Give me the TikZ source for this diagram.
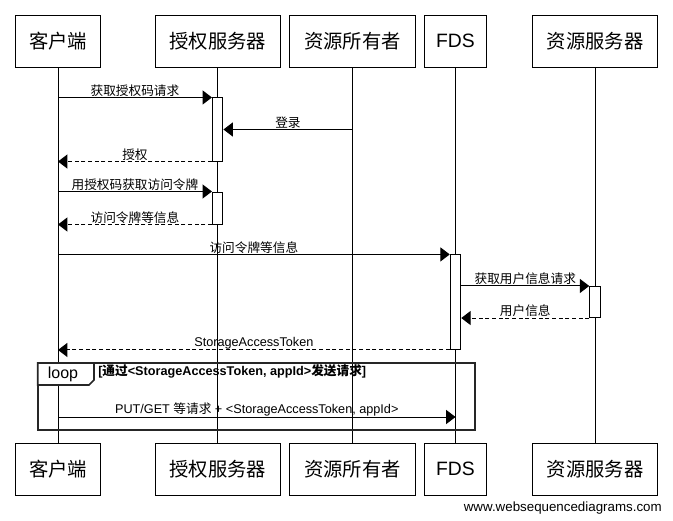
\documentclass[tikz,border=0pt]{standalone}
\usepackage{fontspec}
\setmainfont{Liberation Sans}
\newfontfamily\cjk{Noto Sans CJK SC}
\usetikzlibrary{arrows.meta}

\begin{document}
\begin{tikzpicture}[x=0.75pt, y=-0.75pt,
    actor/.style={draw, line width=0.75pt, inner sep=0pt, minimum height=39.2pt,
                  font=\fontsize{14.5}{17}\selectfont},
    act/.style={draw, fill=white, line width=0.75pt, inner sep=0pt, minimum width=7.9pt},
    msg/.style={line width=0.75pt, -{Triangle[length=7pt, width=10.5pt]}},
    reply/.style={msg, dash pattern=on 3pt off 2pt},
    lbl/.style={midway, above=0pt, inner sep=0.5pt, font=\fontsize{9.5}{11}\selectfont},
    frame/.style={line width=1.2pt, draw=black!85}]
    \useasboundingbox (0,0) rectangle (673,520);

    % participants, top row
    \node[actor, minimum width=64pt]   (client) at (58,41.2)    {\cjk 客户端};
    \node[actor, minimum width=93.5pt] (auth)   at (217.7,41.2) {\cjk 授权服务器};
    \node[actor, minimum width=93.8pt] (owner)  at (352.5,41.2) {\cjk 资源所有者};
    \node[actor, minimum width=46.8pt] (fds)    at (455.5,41.2) {FDS};
    \node[actor, minimum width=94pt]   (res)    at (595,41.2)   {\cjk 资源服务器};

    % participants, bottom row
    \node[actor, minimum width=64pt]   (clientB) at (58,469.2)    {\cjk 客户端};
    \node[actor, minimum width=93.5pt] (authB)   at (217.7,469.2) {\cjk 授权服务器};
    \node[actor, minimum width=93.8pt] (ownerB)  at (352.5,469.2) {\cjk 资源所有者};
    \node[actor, minimum width=46.8pt] (fdsB)    at (455.5,469.2) {FDS};
    \node[actor, minimum width=94pt]   (resB)    at (595,469.2)   {\cjk 资源服务器};

    % lifelines
    \draw[line width=0.75pt] (client) -- (clientB);
    \draw[line width=0.75pt] (auth) -- (authB);
    \draw[line width=0.75pt] (owner) -- (ownerB);
    \draw[line width=0.75pt] (fds) -- (fdsB);
    \draw[line width=0.75pt] (res) -- (resB);

    % activations
    \node[act, minimum height=47.3pt] (a1) at (217.7,129.5) {};
    \node[act, minimum height=24pt]   (a2) at (217.7,208)   {};
    \node[act, minimum height=70.9pt] (a3) at (455.5,302.2) {};
    \node[act, minimum height=23.3pt] (a4) at (595,302)     {};

    % authorization code
    \draw[msg] (client |- a1.north west) -- (a1.north west)
        node[lbl] {\cjk 获取授权码请求};
    \draw[msg] (owner |- a1.east) -- (a1.east)
        node[lbl] {\cjk 登录};
    \draw[reply] (a1.south west) -- (client |- a1.south west)
        node[lbl] {\cjk 授权};

    % access token
    \draw[msg] (client |- a2.north west) -- (a2.north west)
        node[lbl] {\cjk 用授权码获取访问令牌};
    \draw[reply] (a2.south west) -- (client |- a2.south west)
        node[lbl] {\cjk 访问令牌等信息};

    % FDS and resource server
    \draw[msg] (client |- a3.north west) -- (a3.north west)
        node[lbl] {\cjk 访问令牌等信息};
    \draw[msg] (a3.north east |- a4.north west) -- (a4.north west)
        node[lbl] {\cjk 获取用户信息请求};
    \draw[reply] (a4.south west) -- (a3.north east |- a4.south west)
        node[lbl] {\cjk 用户信息};
    \draw[reply] (a3.south west) -- (client |- a3.south west)
        node[lbl] {StorageAccessToken};

    % loop frame
    \draw[frame] (37.7,363) rectangle (475,430);
    \draw[frame, fill=white] (37.7,363) -- (94,363) -- (94,380) -- (89,385) -- (37.7,385) -- cycle;
    \node[font=\fontsize{12}{14}\selectfont] (looplbl) at (63,374) {loop};
    \node[anchor=west, inner sep=0pt, font=\fontsize{9.5}{11}\selectfont\bfseries] (cond) at (98,371.5)
        {[{\cjk 通过}<StorageAccessToken, appId>{\cjk 发送请求}]};
    \coordinate (m10) at (0,417);
    \draw[msg] (client |- m10) -- (fds |- m10)
        node[lbl] {PUT/GET {\cjk 等请求} + <StorageAccessToken, appId>};

    % watermark
    \node[anchor=base east, inner sep=0pt, font=\fontsize{10}{12}\selectfont] (wsd) at (662,511)
        {www.websequencediagrams.com};

\end{tikzpicture}
\end{document}
